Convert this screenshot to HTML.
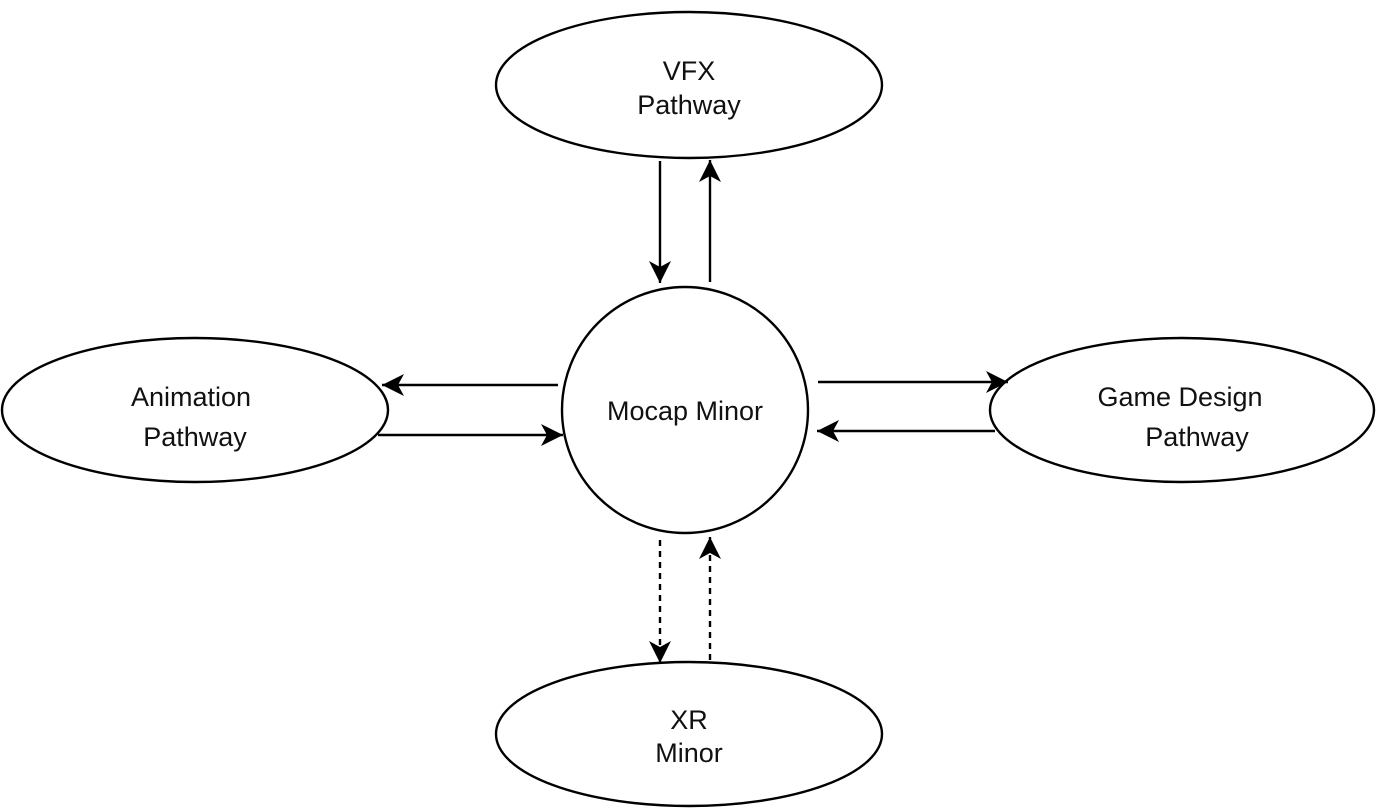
<!DOCTYPE html>
<html><head><meta charset="utf-8"><style>
html,body{margin:0;padding:0;background:#fff;}
svg{display:block;}
text{font-family:"Liberation Sans",sans-serif;font-size:27px;fill:#111;text-anchor:middle;}
</style></head><body>
<svg width="1377" height="808" viewBox="0 0 1377 808" xmlns="http://www.w3.org/2000/svg">
<defs>
<marker id="a" markerUnits="userSpaceOnUse" markerWidth="24" markerHeight="24" viewBox="0 0 24 24" refX="22" refY="12" orient="auto">
<path d="M0,1 L22,12 L0,23 L6,12 Z" fill="#000"/>
</marker>
</defs>
<g fill="#fff" stroke="#000" stroke-width="2.4">
<ellipse cx="689" cy="85" rx="193" ry="73"/>
<ellipse cx="195" cy="410" rx="193" ry="72"/>
<ellipse cx="1182" cy="410" rx="192" ry="72"/>
<ellipse cx="689" cy="734" rx="193" ry="72"/>
<circle cx="685" cy="410" r="123"/>
</g>
<g stroke="#000" stroke-width="2.4" fill="none" marker-end="url(#a)">
<line x1="660" y1="161" x2="660" y2="283"/>
<line x1="710" y1="282" x2="710" y2="160"/>
<line x1="558" y1="385" x2="382" y2="385"/>
<line x1="378" y1="435" x2="563" y2="435"/>
<line x1="818" y1="382" x2="1008" y2="382"/>
<line x1="995" y1="431" x2="817" y2="431"/>
<line x1="660" y1="540" x2="660" y2="663" stroke-dasharray="6,5"/>
<line x1="710" y1="660" x2="710" y2="537" stroke-dasharray="6,5"/>
</g>
<text x="689" y="80">VFX</text>
<text x="689" y="114">Pathway</text>
<text x="191" y="406">Animation</text>
<text x="195" y="446">Pathway</text>
<text x="1180" y="406">Game Design</text>
<text x="1197" y="446">Pathway</text>
<text x="685" y="420">Mocap Minor</text>
<text x="689" y="729">XR</text>
<text x="689" y="762">Minor</text>
</svg>
</body></html>
